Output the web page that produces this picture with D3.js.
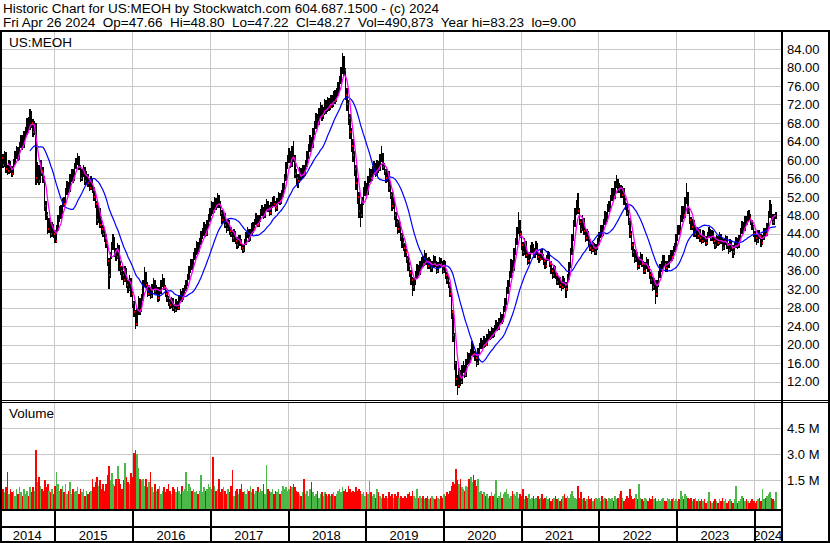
<!DOCTYPE html>
<html><head><meta charset="utf-8">
<script src="https://cdn.jsdelivr.net/npm/d3@7"></script>
<style>html,body{margin:0;padding:0;background:#fff;} svg{display:block;font-family:"Liberation Sans",Arial,sans-serif;} .pre{white-space:pre;}</style>
</head><body><svg id="c" width="830" height="543"></svg>
<script>
const symbol = "US:MEOH";
const headerLine1 = "Historic Chart for US:MEOH by Stockwatch.com 604.687.1500 - (c) 2024";
const headerLine2 = "Fri Apr 26 2024  Op=47.66  Hi=48.80  Lo=47.22  Cl=48.27  Vol=490,873  Year hi=83.23  lo=9.00";
const firstWeek = Date.UTC(2014, 3, 28);
const priorClose = 61;

const weekClose = [
60.5,59,61,58,57.5,59,58,57,59.5,61,
62,60.5,63,64.5,63,65.5,66,68,67,69.5,
68,66,67.5,56,58,55.5,59,57.5,56,50,
48,45,46.5,44,45.5,44,42.5,45,47,49,
48,51,50.5,53,54.5,53.5,56,57,56,58.5,
59.5,60,58.5,56,57,58,55.5,56.5,55,54,
55.5,53.5,52,50.5,47,49,46,45,44,43,
42,38,35,39,41,42.5,40,39,41,37,
36,35,34,36,33,32,34,31,29,27,
24.5,27,29.5,27.5,30,33,35,33,31,32,
30.5,32.5,33.5,31.5,32,30,31.5,33,34,32.5,
31,30,29,28.5,29.5,28,27.5,29,28,30,
31,30,31.5,32,33,34.5,36,37.5,37,39,
40,41.5,40.5,42,43.5,44,45.5,44,46,47,
48.5,50,49,51,50,51.5,50.5,48.5,47,48,
46,45,46.5,44.5,44,43,44,42.5,41.5,43,
42,41,40.5,42,43.5,44.5,43,44,45.5,45,
46.5,47.5,46,47,48.5,49,48,49.5,50.5,49.5,
48.5,50,51,50.5,49.5,51,52,51,52.5,54,
56,58.5,60,61.5,59,62,60.5,57,56,55.5,
57.5,56.5,58,57,59,61,62.5,64,63,66,
67.5,69,68,70,71,69.5,70.5,72,71,72.5,
71.5,73,72,74,73,74.5,75.5,77,79,81,
79.5,74,72,69,66,63,61,58,55,52,
49,48,51,53,54,53,55.5,57,56,57.5,
58.5,57,59,58,60,61,58.5,57.5,56,57,
54,52.5,50,51,48,46.5,45,46,43.5,42,
41,40,38.5,37,35.5,34,32.5,33.5,35,36.5,
35.5,37,38,37.5,39,38,37,38,36.5,37,
38.5,37.5,36,37,38,37.5,36,37.5,35,34,
33,31,27,22,16,12.5,11,13.5,12,14.5,
15,13.5,16,17.5,16.5,18,19.5,18,17,16,
18.5,19.5,20.5,19.5,21,20,21.5,22.5,21.5,23,
22,23.5,24.5,23.5,25,26,25,27.5,29,31.5,
33,35,37.5,36.5,40,42,44.5,46,44,41.5,
40,42,39.5,38,39,40.5,41,39.5,40,41.5,
39,38.5,40,39,38,37,38.5,39.5,37.5,36,
35,36.5,35,33.5,34,33,32.5,34,33,32,
34.5,37,40,43,46,48.5,50,49,46.5,45,
47,44.5,43,44,42,41,40.5,41.5,40,41,
42,43.5,45,44,46.5,48,47,49.5,50,51.5,
53,52,54.5,55,53.5,54,52.5,53.5,51,50,
48.5,47,44,41.5,40,38.5,39.5,37,38,39,
37.5,36,37,38,36.5,35,34,32.5,33.5,31,
33,35,36.5,37,38.5,37.5,36.5,37,38.5,39.5,
39,40.5,41,43,45,44.5,47,49,48,51,
52.5,49,47,45.5,46.5,44,45,43.5,44.5,43,
42.5,44,43,42,43.5,44.5,43,44,42.5,41.5,
43,42,43.5,42.5,41,42,43,41.5,40.5,42,
41,40,41.5,42.5,41.5,43,44.5,46,45,47,
46.5,48,47.5,46.5,45.5,44,43,42.5,44,43.5,
42,43,44.5,44,45.5,48,50,47.5,46.5,47.5,48.27];

const weekHigh = [
61.5,61.2,62,61.8,59,60,59.8,58.7,60.3,62,
63,62.8,63.8,65.5,65.3,66.3,67.2,69,69.2,71,
70.5,68.8,68.5,68,59.5,58.8,60,60,58.5,56.5,
51,48.8,47.5,47,46.5,46.2,44.8,46,48,50,
50.2,51.8,52,54,55.5,55.2,57,58,58,59.3,
60.5,61.5,60.8,59,58,59,58.5,57.5,57,56,
56.5,56,54.2,53,51.2,50,49.5,47,46,45,
44,42.5,38.8,40,42.2,44,43.2,41,42,41.5,
38,37,36,37,36.5,34,35,34.5,31.8,29.5,
27.5,28,30.5,30,31,34,36.8,35.8,33.5,33,
32.5,33.2,34.5,34,33,32.5,32.5,34,35.2,34.5,
33,31.8,30.6,29.8,30.3,30,28.8,29.8,29.5,30.8,
32,31.6,32.3,33,34,35.3,37,38.5,38.6,40,
41,42.5,42.2,43,44.5,45.2,46.5,46.2,47,48.2,
49.5,51.2,50.8,52,51.8,52.8,52.5,51,49.2,49,
48.5,46.8,47.3,47,45.5,44.8,45,44.6,43.2,43.8,
43.8,42.8,41.8,42.8,44.3,45.5,45,45,46.3,46.5,
47.3,48.5,48,48,49.4,50.2,49.8,50.4,51.5,51.2,
50.2,50.8,52,52.2,51.2,51.8,53,52.8,53.4,55,
57,59.5,61,62.5,62,63,64.2,61,58,57,
58.5,58.3,59,58.8,60,62,63.5,65.3,65,67,
68.5,70.2,70,71.2,72.5,71.8,71.5,73.2,73,73.6,
73.5,74,74,75,75.2,75.6,76.8,78.2,80.2,83.23,
82.5,80,75.5,73,70,67,64.5,62,59,56,
53,50.5,52,54.2,55.5,55,56.5,58.2,58,58.6,
59.8,59.3,60,59.8,61.2,63,61.5,59.3,58,58,
57.5,55,53,52,51.5,48.8,47.2,47,46.5,44.2,
43,42,40.8,39.2,37.8,36.2,34.6,34.5,36,37.5,
37.2,38,39,39.2,40.5,39.8,38.8,39,38.6,38,
39.3,39.2,38,37.8,39,38.8,38,38.3,38,35.8,
35,33.5,31.5,27.5,22.5,16.5,13.5,15,14.5,15.5,
16.5,15.5,16.8,18.5,18.2,19,20.8,20,18.6,17.5,
19.2,20.3,21.4,21,21.8,21.5,22.3,23.3,23,23.8,
23.5,24.2,25.3,25,25.8,27,26.6,28.3,30,32.5,
34,36,38.5,38.3,41,43,45.5,48.7,47,44.5,
42.2,43,42.5,40,40,41.5,42.2,41.8,41,42.5,
42,39.8,40.8,40.6,39.6,38.6,39.3,40.3,40,38,
36.6,37.2,37,35.5,34.8,34.6,33.6,34.8,34.5,33.5,
35.3,37.8,41,44,47,49.5,51.3,52.8,49.5,47.2,
48,47.5,45.2,45,44.5,42.8,41.8,42.3,42,41.8,
43,44.3,46,45.8,47.3,49,48.8,50.4,51.2,52.5,
54,54,55.5,56.7,55.8,55,54.6,54.4,54,51.8,
50.6,49.2,47.5,44.6,42.2,40.8,40.5,40,39,40,
39.6,38,37.8,39,38.5,37,35.8,34.6,34.5,34,
34,36,37.5,38.2,39.5,39.3,38.2,38,39.4,40.5,
40.5,41.3,42,44,46,46,48,50,50,52,
55,53,49.6,47.6,47.3,47,45.8,45.5,45.3,45,
43.8,44.8,44.6,43.6,44.3,45.4,45,44.8,44.5,43.2,
43.8,43.6,44.3,44,43,42.8,43.8,43.5,42,42.8,
42.6,41.6,42.3,43.3,43,43.8,45.3,46.8,46.6,47.8,
47.8,49,49.2,48.2,47,46,44.6,43.8,44.8,44.8,
44,43.8,45.3,45.2,46.3,49,51.3,50.5,48.2,48.3,48.8];

const weekLow = [
59.2,58.3,58.5,57.2,56.8,57,57.2,56.3,56.8,59,
60.3,59.8,60,62.5,62.2,62.6,64.8,65.5,66,66.5,
67,65,65.5,54.5,55,54.5,55,56.5,55,49,
47,44,44.2,43,43.2,43,42,42,44.5,46.5,
47.2,47.5,49.8,50,52.5,52.8,53,55.2,55,55.5,
58,58.8,57.8,55.2,55.5,56.3,54.5,54.8,54.2,53.2,
53.5,52.8,51,49.5,46,46.3,45.2,44,43.2,42.2,
41,37,32,34.5,38.5,40.5,39,38,38.5,36,
35,34,33,33.5,32.2,31.2,31.5,30.2,28,26,
23.3,24,26.5,26.5,27,29.5,32.5,32.3,30.2,30.5,
29.8,30,32,31,30.8,29.3,29.5,31,32.5,31.8,
30.3,29.3,28.3,27.8,28,27.3,26.8,27,27.4,27.6,
29.5,29.2,29.6,31,31.5,32.6,34,35.5,36.2,36.5,
38.3,39.4,39.7,40,41.5,42.8,43.5,43.2,43.5,45.3,
46.5,47.8,48.2,48.5,49.2,49.5,49.6,47.8,46.2,46.4,
45.3,44.2,44.5,43.8,43.2,42.2,42.3,41.8,40.8,41,
41.3,40.4,39.9,40,41.5,43,42.3,42.5,43.5,44.2,
44.5,46,45.4,45.5,46.5,47.8,47.3,47.5,49,48.8,
47.8,48,49.5,49.8,48.8,49,50.4,50.2,50.5,52,
53.5,55.5,58,59.3,58.2,58.5,59.5,56,54.5,54,
55,55.7,56,56.2,56.5,58.5,60.3,61.8,62,62.5,
65.3,66.8,67,67.5,69.2,68.5,68.8,69.8,70,70.4,
70.6,70.8,71.2,71.5,72.2,72.5,73.8,74.8,76.5,78.5,
78.2,73,70.5,67.5,64.5,61.8,59.5,56.5,53.5,50.5,
47.5,45.5,47.5,50.3,52.2,52,52.5,55,55.2,55.5,
56.8,56.2,56.5,57.2,57.5,59.5,57.8,56.8,55,55.3,
53,51.5,49,49.3,47,45.5,44,44.2,42.5,41,
40.2,39,37.6,36,34.6,33,30.5,31.6,33,34.3,
34.8,35,36.3,36.8,37,37.2,36.3,36.4,35.8,35.8,
36.5,36.8,35.3,35.4,36.5,36.8,35.2,35.5,34.2,33.2,
32.2,30.2,25.5,20.5,14.5,11,9,10.5,11,11.5,
13.8,12.8,13,15.5,15.8,16,17.5,17.3,16.4,15.2,
15.6,18,19,19,19.2,19.5,19.6,21,21,21.2,
21.4,21.6,23,23,23.2,24.6,24.4,24.8,27,28.6,
31,32.5,34.5,35.6,36,39.4,41.5,44,43,40.5,
39.2,39.5,38.7,37.2,37.4,38.5,39.8,38.8,38.8,39.4,
38.3,37.6,38,38.3,37.3,36.3,36.5,38,36.8,35.3,
34.3,34.5,34.3,32.8,32.9,32.3,31.6,32,32.2,30,
31.5,34,36.5,39.5,42.5,45.5,48,48.2,45.8,44.2,
44.6,43.8,42.3,42.4,41.2,40.3,39.7,40,39.3,39.5,
40.4,41.5,43,43.2,43.5,46,46.2,46.5,48.8,49.4,
51,51.2,51.5,54,52.8,52.8,51.7,51.8,50.2,49.2,
47.8,46,43,40.5,39,37.6,37.8,36.2,36.4,37.2,
36.8,35.2,35.3,36.3,35.8,34.2,33.2,31.6,31.8,28.8,
30.3,32.5,34.5,35.8,36.4,36.8,35.8,35.8,36.5,38,
38.2,38.5,40,40.5,42.5,43.8,44,46.5,47.2,47.5,
50.5,48.2,46.2,44.8,44.8,43.2,43.4,42.8,42.8,42.3,
41.8,42,42.3,41.3,41.5,43,42.4,42.5,41.8,40.8,
41,41.3,41.5,41.8,40.3,40.5,41.5,40.8,39.7,40,
40.3,38.8,39.5,41,40.8,41,42.5,44,44.3,44.6,
45.8,46,46.8,45.8,44.8,43.3,42.2,41.6,42,42.8,
41.2,41.5,42.6,43.3,43.5,45,47.5,46.8,45.8,46,47.22];

const weekVolM = [
3.4,1.0,0.8,1.1,2.0,0.7,1.0,0.8,0.9,0.6,
1.0,0.7,1.1,0.8,0.6,1.0,0.7,0.9,0.6,1.1,
0.8,1.1,0.9,3.25,1.4,1.7,1.2,1.0,0.9,1.5,
1.1,1.3,0.9,0.8,1.0,0.7,1.2,2.0,1.3,0.9,
1.0,1.2,0.8,1.3,0.7,0.9,1.4,0.7,1.0,0.8,
0.9,1.1,0.7,1.0,0.8,1.0,0.6,0.9,0.7,0.8,
0.9,1.6,1.1,1.4,1.7,1.2,1.5,1.0,1.3,0.9,
1.3,1.8,2.3,1.5,1.9,1.3,1.2,1.6,2.3,1.6,
1.3,1.0,1.5,2.5,1.7,1.4,1.3,1.9,1.7,3.1,
3.25,3.0,2.2,1.6,1.5,1.6,1.2,1.6,1.1,1.4,
2.0,1.1,0.8,1.3,0.9,1.0,1.2,0.7,0.9,1.1,
0.8,1.0,1.3,0.9,0.7,1.1,1.0,0.8,1.1,0.9,
0.7,1.2,0.9,1.0,2.0,0.9,1.3,1.1,0.9,1.0,
0.8,0.9,0.7,0.9,1.8,0.8,1.1,0.9,1.0,1.3,
1.1,1.0,2.85,1.2,0.9,1.0,1.6,0.8,1.0,1.1,
0.9,0.7,1.0,0.8,1.2,2.1,0.6,0.9,1.0,0.7,
1.0,1.3,0.8,0.9,0.7,1.0,0.9,1.2,0.8,1.0,
0.7,0.9,1.1,0.8,1.0,0.9,1.3,0.7,2.4,1.0,
0.9,0.8,1.0,0.7,0.9,0.8,1.0,0.7,0.9,1.2,
1.0,1.1,0.9,1.0,1.2,1.1,1.3,1.1,0.9,0.8,
0.7,0.6,0.8,1.55,0.7,0.9,0.6,1.0,1.4,0.8,
0.6,0.7,0.9,0.5,0.7,0.8,0.6,0.8,0.7,0.6,
0.7,0.6,0.7,0.8,0.6,0.7,0.9,1.0,0.8,1.1,
0.9,1.0,0.8,1.2,1.0,0.8,0.9,0.8,1.1,0.9,
1.0,0.9,0.7,0.8,0.6,0.8,0.7,1.45,0.8,0.6,
0.7,0.5,1.0,0.8,0.6,0.5,0.7,0.5,0.6,0.5,
0.8,0.6,0.7,0.5,0.7,0.6,0.8,0.5,0.6,0.5,
0.5,0.6,0.5,0.7,0.8,0.6,0.9,0.6,0.5,1.0,
0.5,0.6,0.5,0.6,0.4,0.5,0.6,0.4,0.5,0.6,
0.5,0.4,0.6,0.5,0.4,0.6,0.5,0.7,0.6,0.8,
0.7,0.9,1.2,1.4,1.3,2.15,1.5,1.3,1.6,1.1,
1.0,0.9,1.2,1.1,1.6,1.7,1.4,1.8,1.5,1.2,
1.6,0.8,0.9,0.7,0.8,0.6,0.7,0.5,0.6,0.8,
0.6,0.7,1.5,0.5,0.6,0.8,0.5,0.7,0.8,1.0,
0.7,0.5,0.6,0.9,0.7,0.6,0.8,0.5,0.7,0.6,
1.0,0.4,0.6,0.5,0.7,0.4,0.5,0.6,0.4,0.5,
0.6,0.4,0.5,0.7,0.4,0.5,0.6,0.4,0.5,0.3,
0.4,0.5,0.6,0.4,0.5,0.3,0.4,0.6,0.7,0.5,
0.6,0.5,0.7,0.9,0.6,0.5,0.4,1.17,0.5,0.85,
0.4,0.5,0.3,0.4,0.6,0.4,0.5,0.3,0.4,0.5,
0.4,0.5,0.3,0.6,0.4,0.5,0.4,0.3,0.5,0.4,
0.5,0.3,0.6,0.4,0.5,0.7,0.9,0.5,0.3,0.4,
0.6,0.5,1.0,0.6,0.4,0.5,0.7,0.4,1.3,0.5,
0.4,0.3,0.5,0.4,0.3,0.5,0.4,0.6,0.4,0.5,
0.3,0.4,0.3,0.4,0.5,0.3,0.3,0.5,0.4,0.3,
0.4,0.5,0.3,0.4,0.3,0.4,0.9,0.6,0.4,0.7,
0.6,0.5,0.4,0.5,0.3,0.4,0.5,0.3,0.4,0.3,
0.4,0.3,0.4,0.2,0.3,0.8,0.3,0.2,0.3,0.4,
0.3,0.2,0.4,0.3,0.5,0.3,0.4,0.2,0.3,0.4,
0.3,0.2,0.4,1.17,0.2,0.3,0.4,0.6,0.5,0.3,
0.4,0.3,0.2,0.3,0.4,0.3,0.2,0.3,0.4,0.5,
0.3,1.0,0.4,0.5,0.6,0.7,0.8,0.5,0.4,0.3,0.85];

const priceTicks = [12,16,20,24,28,32,36,40,44,48,52,56,60,64,68,72,76,80,84];
const volumeTicks = [1.5, 3.0, 4.5];
const years = [2014,2015,2016,2017,2018,2019,2020,2021,2022,2023,2024];
const shortWindow = 5, longWindow = 20;

// ---- layout ----
const W = 830, H = 543;
const plotL = 2, plotR = 781.7;
const priceTop = 32, priceBot = 400;
const volBot = 509.3;
const gridColor = "#c8c8c8";
const upColor = "#4cb84a", downColor = "#ff0000", flatColor = "#a0a0a0";

const data = weekClose.map((c, i) => ({
  date: new Date(firstWeek + i * 7 * 864e5),
  close: c, high: weekHigh[i], low: weekLow[i], vol: weekVolM[i],
  prev: i === 0 ? priorClose : weekClose[i - 1]
}));

function sma(n) {
  return weekClose.map((_, i) => i < n - 1 ? null : d3.mean(weekClose.slice(i - n + 1, i + 1)));
}
const maShort = sma(shortWindow), maLong = sma(longWindow);

const x = d3.scaleUtc().domain([new Date(Date.UTC(2015,0,1)), new Date(Date.UTC(2024,0,1))]).range([54.3, 753.7]);
const y = d3.scaleLinear().domain([8, 87.7]).range([priceBot, priceTop]);
const yv = d3.scaleLinear().domain([0, 6]).range([506.3, 402.3]);

const svg = d3.select("#c");
svg.append("rect").attr("width", W).attr("height", H).attr("fill", "#fff");

// gridlines
const grid = svg.append("g").attr("shape-rendering", "crispEdges").attr("stroke", gridColor).attr("stroke-width", 1);
grid.selectAll(".hp").data(priceTicks).join("line")
  .attr("x1", plotL).attr("x2", plotR).attr("y1", d => Math.round(y(d)) + 0.5).attr("y2", d => Math.round(y(d)) + 0.5);
grid.selectAll(".hv").data(volumeTicks).join("line")
  .attr("x1", plotL).attr("x2", plotR).attr("y1", d => Math.round(yv(d)) + 0.5).attr("y2", d => Math.round(yv(d)) + 0.5);
const yearStarts = years.slice(1).map(yr => new Date(Date.UTC(yr, 0, 1)));
yearStarts.forEach(d => {
  const xx = Math.round(x(d)) + 0.5;
  grid.append("line").attr("x1", xx).attr("x2", xx).attr("y1", priceTop).attr("y2", priceBot);
  grid.append("line").attr("x1", xx).attr("x2", xx).attr("y1", 403).attr("y2", volBot);
});

// price bars
const bars = svg.append("g").attr("shape-rendering", "crispEdges");
bars.selectAll("rect").data(data).join("rect")
  .attr("x", d => x(d.date) - 0.75).attr("width", 1.5)
  .attr("y", d => y(d.high)).attr("height", d => Math.max(1, y(d.low) - y(d.high)))
  .attr("fill", "#000");
svg.append("g").attr("shape-rendering", "crispEdges").selectAll("rect")
  .data(data.filter(d => d.close < d.prev)).join("rect")
  .attr("x", d => x(d.date) + 0.4).attr("width", 1)
  .attr("y", d => y(d.close) - 1).attr("height", 2).attr("fill", "#ff0000");

// moving averages
const lineOf = arr => d3.line().defined((d, i) => arr[i] !== null)
  .x(d => x(d.date)).y((d, i) => y(arr[i]));
svg.append("path").attr("d", lineOf(maLong)(data)).attr("fill", "none").attr("stroke", "#0000ff").attr("stroke-width", 1.2);
svg.append("path").attr("d", lineOf(maShort)(data)).attr("fill", "none").attr("stroke", "#ff00ff").attr("stroke-width", 1.3);

// volume bars
svg.append("g").attr("shape-rendering", "crispEdges").selectAll("rect").data(data).join("rect")
  .attr("x", d => x(d.date) - 0.75).attr("width", 1.55)
  .attr("y", d => yv(d.vol)).attr("height", d => volBot - yv(d.vol))
  .attr("fill", d => d.close > d.prev ? upColor : d.close < d.prev ? downColor : flatColor);

// frame
const frame = svg.append("g").attr("fill", "#000").attr("shape-rendering", "crispEdges");
frame.append("rect").attr("x", 0).attr("y", 30).attr("width", W).attr("height", 2);
frame.append("rect").attr("x", 0).attr("y", 30).attr("width", 2).attr("height", H - 30);
frame.append("rect").attr("x", 781).attr("y", 30).attr("width", 2).attr("height", H - 30);
frame.append("rect").attr("x", 828).attr("y", 30).attr("width", 2).attr("height", H - 30);
frame.append("rect").attr("x", 0).attr("y", 400).attr("width", W).attr("height", 1);
frame.append("rect").attr("x", 0).attr("y", 402).attr("width", W).attr("height", 1);
frame.append("rect").attr("x", 0).attr("y", 509).attr("width", 783).attr("height", 2);
frame.append("rect").attr("x", 0).attr("y", 526).attr("width", 783).attr("height", 2);
frame.append("rect").attr("x", 0).attr("y", 541).attr("width", W).attr("height", 2);
yearStarts.forEach(d => {
  frame.append("rect").attr("x", Math.round(x(d)) - 0.5).attr("y", 511).attr("width", 2).attr("height", 30);
});

// texts
const txt = svg.append("g").attr("fill", "#000").attr("font-size", "13.5px");
txt.append("text").attr("class", "pre").attr("x", 3).attr("y", 12.7).text(headerLine1);
txt.append("text").attr("class", "pre").attr("x", 3).attr("y", 27.3).text(headerLine2);
txt.append("text").attr("x", 9).attr("y", 46.7).text(symbol);
txt.append("text").attr("x", 9).attr("y", 418).text("Volume");

const pAxis = svg.append("g").attr("transform", "translate(783,0)")
  .call(d3.axisRight(y).tickValues(priceTicks).tickFormat(d3.format(".2f")).tickSize(0).tickPadding(4));
const vAxis = svg.append("g").attr("transform", "translate(783,0)")
  .call(d3.axisRight(yv).tickValues(volumeTicks).tickFormat(d => d.toFixed(1) + " M").tickSize(0).tickPadding(4));
[pAxis, vAxis].forEach(g => {
  g.select(".domain").remove();
  g.selectAll("text").attr("fill", "#000").attr("font-size", "13px").attr("font-family", '"Liberation Sans",Arial,sans-serif');
});

txt.selectAll(".yr").data(years).join("text")
  .attr("text-anchor", "middle").attr("font-size", "13px")
  .attr("x", yr => {
    const a = Math.max(0, x(new Date(Date.UTC(yr, 0, 1))));
    const b = Math.min(plotR, x(new Date(Date.UTC(yr + 1, 0, 1))));
    return (a + b) / 2;
  })
  .attr("y", 539.5).text(yr => yr);
</script></body></html>
